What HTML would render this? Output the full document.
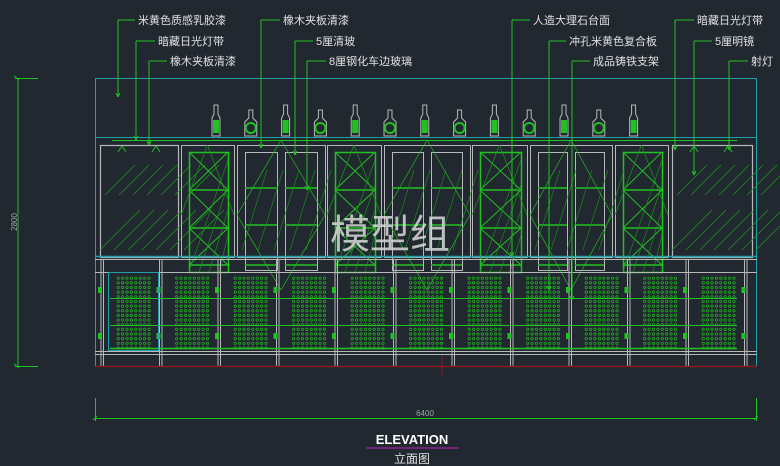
<!DOCTYPE html>
<html><head><meta charset="utf-8"><style>
html,body{margin:0;padding:0;background:#212830;}
svg{display:block}
text{font-family:"Liberation Sans","Noto Sans CJK SC",sans-serif;}
</style></head><body>
<svg id="s" width="780" height="466" viewBox="0 0 780 466" xmlns="http://www.w3.org/2000/svg">
<rect width="780" height="466" fill="#212830"/>
<g id="g" fill="none" stroke-width="1"></g>
<g font-size="11" fill="#e0e0e0">
<text x="138" y="24">米黄色质感乳胶漆</text>
<text x="158" y="45">暗藏日光灯带</text>
<text x="170" y="65">橡木夹板清漆</text>
<text x="283" y="24">橡木夹板清漆</text>
<text x="316" y="45">5厘清玻</text>
<text x="329" y="65">8厘钢化车边玻璃</text>
<text x="533" y="24">人造大理石台面</text>
<text x="569" y="45">冲孔米黄色复合板</text>
<text x="593" y="65">成品铸铁支架</text>
<text x="697" y="24">暗藏日光灯带</text>
<text x="715" y="45">5厘明镜</text>
<text x="751" y="65">射灯</text>
</g>
<text x="330" y="248" font-size="40" fill="#d8d8d8" fill-opacity="0.85">模型组</text>
<text x="17" y="222" font-size="8" fill="#9aa" transform="rotate(-90 17 222)" text-anchor="middle">2800</text>
<text x="425" y="416" font-size="8" fill="#9aa" text-anchor="middle">6400</text>
<text x="412" y="444" font-size="13" font-weight="bold" fill="#fff" text-anchor="middle">ELEVATION</text>
<line x1="366" y1="448" x2="459" y2="448" stroke="#c020c0" stroke-width="1"/>
<text x="412" y="463" font-size="12" fill="#e0e0e0" text-anchor="middle">立面图</text>
</svg>
<script>
var g=document.getElementById('g'),NS='http://www.w3.org/2000/svg';
function el(t,a){var e=document.createElementNS(NS,t);for(var k in a)e.setAttribute(k,a[k]);g.appendChild(e);return e;}
function L(x1,y1,x2,y2,c,w){el('line',{x1:x1,y1:y1,x2:x2,y2:y2,stroke:c,'stroke-width':w||1});}
function R(x,y,w,h,c,sw){el('rect',{x:x,y:y,width:w,height:h,stroke:c,'stroke-width':sw||1});}
var W='#b8b8b8',G='#22c022',C='#22a0a8',GD='#1a9a1a';
R(95.5,78.5,661,288,C);
L(95,137.5,757,137.5,C);
L(112,140.5,737,140.5,G);
[[100,178],[672,752]].forEach(function(p){R(p[0]+.5,145.5,p[1]-p[0],112,W,1.2);
 for(var i=0;i<7;i++){var x=p[0]+i*14;L(x,250,x+40,210,GD,0.7);L(x+5,195,x+35,165,GD,0.7);}
 L(p[0]+18,152,p[0]+22,146,G);L(p[0]+22,146,p[0]+26,152,G);L(p[0]+52,152,p[0]+56,146,G);L(p[0]+56,146,p[0]+60,152,G);});
[[181,234],[327,381],[472,527],[615,668]].forEach(function(p){var a=p[0],b=p[1];R(a+.5,145.5,b-a,112,W);
 var ia=a+8,ib=b-6;R(ia+.5,152.5,ib-ia,120,G,1.5);
 [190,228,265].forEach(function(y){L(ia,y,ib,y,G,1.5);});
 [[152,190],[190,228],[228,265]].forEach(function(s){L(ia,s[0],ib,s[1],G);L(ib,s[0],ia,s[1],G);});
 L(a,215,(a+b)/2,145,GD,0.7);L((a+b)/2,145,b,215,GD,0.7);
 for(var i=0;i<4;i++)L(ia+i*10,272,ib,160+i*25,GD,0.6);});
[[237,325],[384,470],[530,612]].forEach(function(p){var a=p[0],b=p[1],m=(a+b)/2;R(a+.5,145.5,b-a,112,W);
 R(a+8.5,152.5,m-a-12,118,W);R(m+4.5,152.5,b-m-12,118,W);
 [188,225,265].forEach(function(y){L(a+8,y,m-4,y,G,1.5);L(m+4,y,b-8,y,G,1.5);});
 L(a,215,m,140,G,0.7);L(m,140,b,215,G,0.7);L(a,215,m,290,G,0.7);L(m,290,b,215,G,0.7);
 for(var i=0;i<5;i++)L(a+5+i*16,250,a+30+i*16,170,GD,0.6);});
for(var i=0;i<13;i++){var cx=216+i*34.8;
 if(i%2==0){el('path',{d:'M'+(cx-2)+' 105h4v9l2 4v18h-8v-18l2-4z',stroke:W});el('rect',{x:cx-3,y:120,width:6,height:13,fill:G,stroke:'none'});}
 else{el('path',{d:'M'+(cx-2)+' 110h4v8l4 4v14h-12v-14l4-4z',stroke:W});el('circle',{cx:cx,cy:128,r:5,stroke:G,'stroke-width':2});}}
L(95,256.5,757,256.5,C,1.5);L(95,259.5,757,259.5,W);
L(95,272.5,757,272.5,W);L(95,351.5,757,351.5,W);L(95,354.5,757,354.5,W);
for(var i=0;i<12;i++){var x=101+i*58.5;L(x,259,x,366,W);L(x+2.5,259,x+2.5,366,W);
 el('rect',{x:x-3,y:287,width:4,height:6,fill:G,stroke:'none'});el('rect',{x:x-3,y:333,width:4,height:6,fill:G,stroke:'none'});}
var d='';
for(var k=0;k<11;k++){var x0=117+k*58.5;for(var r=0;r<16;r++)for(var c=0;c<8;c++){d+='M'+(x0+c*4.4+1.2)+' '+(277+r*4.65)+'a1.2 1.2 0 1 0 0.01 0';}}
el('path',{d:d,stroke:'#1eb01e','stroke-width':0.8});
[298.5,325.5].forEach(function(y){L(110,y,737,y,G);});L(110,348.5,737,348.5,G,1.5);
R(108.5,272.5,50,78,C);
L(95,366.5,757,366.5,'#8a1a20',1.5);L(442,355,442,375,'#8a1a20',1);
function ld(x,ty,tx,y2){L(x,ty,tx,ty,G);L(x,ty,x,y2,G);L(x-2,y2-4,x,y2,G);L(x+2,y2-4,x,y2,G);}
ld(118,20,135,97);ld(136,41,155,140);ld(149,61,167,145);
ld(261,20,280,148);ld(295,41,313,155);ld(307,61,326,190);
ld(512,20,530,256);ld(549,41,566,290);ld(572,61,590,300);
ld(675,20,694,150);ld(694,41,712,175);ld(729,61,748,150);
L(18,78,18,367,G);L(15,78.5,38,78.5,G);L(15,366.5,38,366.5,G);
L(14,76,19,80,G);L(14,364,19,368,G);
L(95,418.5,757,418.5,G);L(95.5,398,95.5,421,G);L(756.5,398,756.5,421,G);
L(93,420,97,416,G);L(754,420,758,416,G);
</script>
</body></html>
